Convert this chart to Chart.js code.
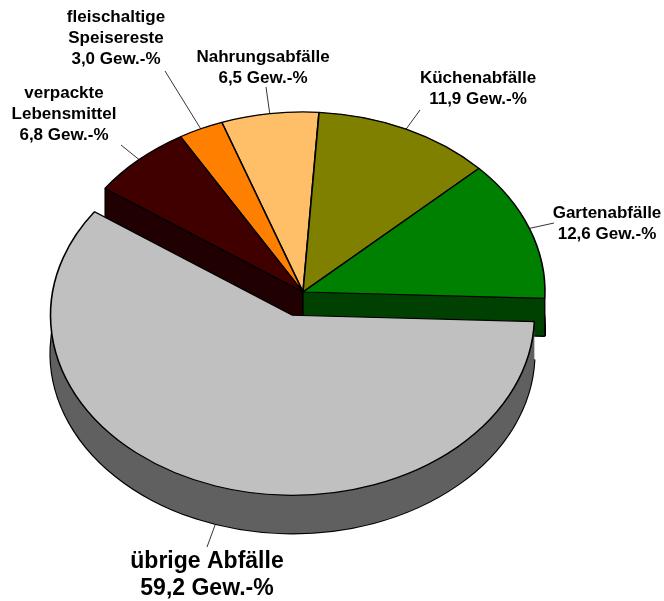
<!DOCTYPE html>
<html>
<head>
<meta charset="utf-8">
<style>html,body{margin:0;padding:0;background:#fff}canvas{display:block}</style>
<script src="https://cdn.jsdelivr.net/npm/chart.js@4"></script>
</head>
<body>
<canvas id="c" width="664" height="601"></canvas>
<script>
const categories = ['übrige Abfälle', 'verpackte\nLebensmittel', 'fleischaltige\nSpeisereste', 'Nahrungsabfälle', 'Küchenabfälle', 'Gartenabfälle'];
const values = [59.2, 6.8, 3.0, 6.5, 11.9, 12.6];
const topColors = ['#C0C0C0', '#400000', '#FF8000', '#FFBF69', '#808000', '#008000'];
const wallColors = ['#606060', '#200000', '#804000', '#806035', '#404000', '#004000'];
const explode = [33, 0, 0, 0, 0, 0];

const TILT = 0.744, DEPTH = 38, START = 92;
// label layout: centre x, first baseline, line height, font size, leader outer end
const labelLayout = [
  {x: 207, y: 568, lh: 27, size: 23, lx: 207, ly: 547},
  {x: 64,  y: 98,  lh: 21, size: 17, lx: 121, ly: 145},
  {x: 116, y: 22,  lh: 21, size: 17, lx: 165, ly: 71},
  {x: 263, y: 62,  lh: 20.5, size: 17, lx: 266, ly: 87},
  {x: 478, y: 83,  lh: 21, size: 17, lx: 420, ly: 110},
  {x: 607, y: 218, lh: 21, size: 17, lx: 554, ly: 223}
];

const pie3d = {
  id: 'pie3d',
  beforeDatasetsDraw(chart) {
    const ctx = chart.ctx;
    const arcs = chart.getDatasetMeta(0).data;
    const midOf = el => (el.startAngle + el.endAngle) / 2;
    const shift = (el, i) => ({x: Math.cos(midOf(el)) * explode[i], y: Math.sin(midOf(el)) * explode[i]});
    const drawTop = (el, i) => {
      const s = shift(el, i);
      const saved = el.options;
      el.options = Object.assign({}, saved, {backgroundColor: topColors[i], borderColor: '#000', borderWidth: 1.6});
      ctx.save();
      ctx.translate(el.x + s.x, el.y + s.y * TILT);
      ctx.scale(1, TILT);
      ctx.translate(-el.x, -el.y);
      el.draw(ctx);
      ctx.restore();
      el.options = saved;
    };
    // the side wall of a slice: the slice swept straight down by DEPTH
    const wall = (el, i) => {
      const s = shift(el, i);
      const cx = el.x + s.x, cy = el.y + s.y * TILT;
      const R = el.outerRadius, Ry = R * TILT, a0 = el.startAngle, a1 = el.endAngle;
      const rim = [a0, a1].map(a => [cx + Math.cos(a) * R, cy + Math.sin(a) * Ry]);
      ctx.save();
      ctx.fillStyle = wallColors[i];
      ctx.strokeStyle = '#000';
      // curved band with its lower rim
      ctx.beginPath();
      ctx.ellipse(cx, cy, R, Ry, 0, a0, a1, false);
      ctx.ellipse(cx, cy + DEPTH, R, Ry, 0, a1, a0, true);
      ctx.closePath();
      ctx.fill();
      ctx.lineWidth = 2.2;
      ctx.beginPath();
      ctx.ellipse(cx, cy + DEPTH, R, Ry, 0, a0, a1, false);
      ctx.stroke();
      // lower sector, so nothing painted earlier shows through
      ctx.beginPath();
      ctx.moveTo(cx, cy + DEPTH);
      ctx.ellipse(cx, cy + DEPTH, R, Ry, 0, a0, a1, false);
      ctx.closePath();
      ctx.fill();
      // the radial faces of slices that stay in the pie
      if (!explode[i]) {
        rim.forEach(p => {
          ctx.beginPath();
          ctx.moveTo(cx, cy); ctx.lineTo(p[0], p[1]);
          ctx.lineTo(p[0], p[1] + DEPTH); ctx.lineTo(cx, cy + DEPTH);
          ctx.closePath();
          ctx.fill();
        });
        // lower edge of a face that points towards the viewer, and vertical edges
        ctx.lineWidth = 1.3;
        rim.forEach(p => {
          if (p[1] > cy) {
            ctx.beginPath(); ctx.moveTo(cx, cy + DEPTH); ctx.lineTo(p[0], p[1] + DEPTH); ctx.stroke();
          }
        });
        ctx.lineWidth = 1.2;
        [[cx, cy]].concat(rim).forEach(p => {
          ctx.beginPath(); ctx.moveTo(p[0], p[1]); ctx.lineTo(p[0], p[1] + DEPTH); ctx.stroke();
        });
      }
      ctx.restore();
    };

    const idx = arcs.map((el, i) => i);
    // back-to-front: slices pointing further up get their walls painted first
    const still = idx.filter(i => !explode[i]).sort((a, b) => Math.sin(midOf(arcs[a])) - Math.sin(midOf(arcs[b])));
    const moved = idx.filter(i => explode[i]);
    still.forEach(i => wall(arcs[i], i));
    still.forEach(i => drawTop(arcs[i], i));
    moved.forEach(i => { wall(arcs[i], i); drawTop(arcs[i], i); });

    // leader lines and labels
    arcs.forEach((el, i) => {
      const s = shift(el, i), L = labelLayout[i];
      const mid = midOf(el);
      const ax = el.x + s.x + Math.cos(mid) * el.outerRadius;
      let ay = el.y + (s.y + Math.sin(mid) * el.outerRadius) * TILT;
      if (explode[i]) ay += DEPTH;
      ctx.save();
      ctx.strokeStyle = '#000';
      ctx.lineWidth = 0.8;
      ctx.beginPath(); ctx.moveTo(L.lx, L.ly); ctx.lineTo(ax, ay); ctx.stroke();
      ctx.fillStyle = '#000';
      ctx.textAlign = 'center';
      ctx.textBaseline = 'alphabetic';
      ctx.font = 'bold ' + L.size + 'px "Liberation Sans", Arial, sans-serif';
      const lines = categories[i].split('\n').concat(values[i].toFixed(1).replace('.', ',') + ' Gew.-%');
      lines.forEach((t, k) => ctx.fillText(t, L.x, L.y + k * L.lh));
      ctx.restore();
    });
    return false;
  }
};

new Chart(document.getElementById('c'), {
  type: 'pie',
  data: {
    labels: categories,
    datasets: [{data: values, backgroundColor: topColors, borderColor: '#000', borderWidth: 0}]
  },
  options: {
    responsive: false,
    animation: false,
    rotation: START,
    layout: {padding: {left: 61, right: 119, top: 50, bottom: 67}},
    plugins: {legend: {display: false}, tooltip: {enabled: false}}
  },
  plugins: [pie3d]
});
</script>
</body>
</html>
